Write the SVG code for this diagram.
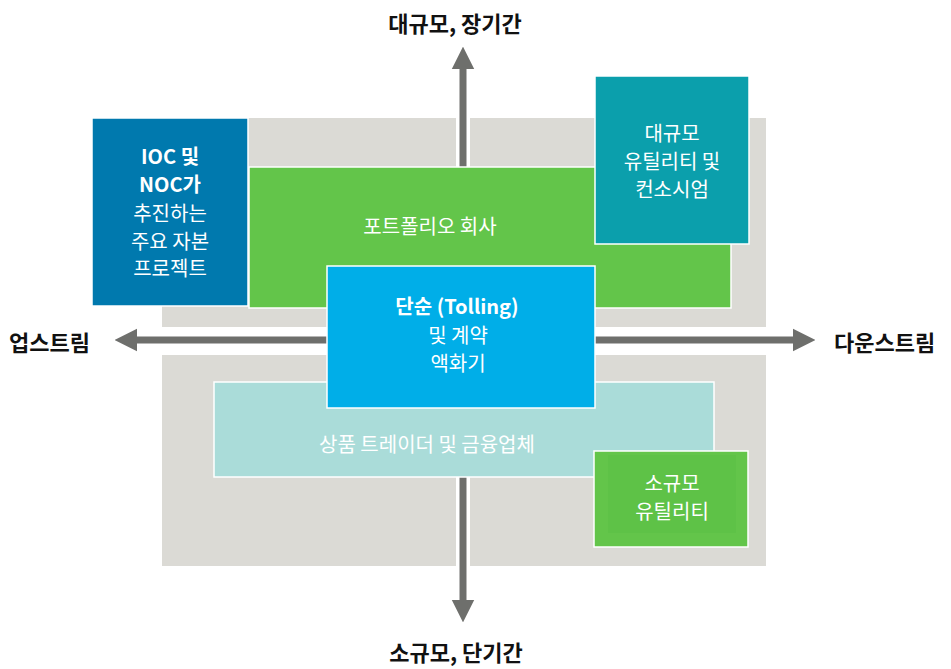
<svg xmlns="http://www.w3.org/2000/svg" width="951" height="669" viewBox="0 0 951 669">
<style>
.bg{fill:#dbdad5}
.box{stroke:#ffffff;stroke-width:1.5}
.t{font-family:"Noto Sans CJK KR","Noto Sans",sans-serif;font-size:20px;fill:#ffffff;text-anchor:middle;dominant-baseline:central}
.b{font-weight:bold}
.ax{font-family:"Noto Sans CJK KR","Noto Sans",sans-serif;font-size:22px;font-weight:bold;fill:#111111;dominant-baseline:central}
.arr{stroke:#6e6f6c;stroke-width:7;fill:none}
</style>
<defs>
<marker id="ah" viewBox="0 0 10 10" refX="0" refY="5" markerWidth="3.2" markerHeight="3.8" orient="auto" markerUnits="strokeWidth">
<path d="M0,0 L10,5 L0,10 z" fill="#6e6f6c"/>
</marker>
</defs>
<rect width="951" height="669" fill="#ffffff"/>
<g id="quadrants">
<rect class="bg" x="162" y="118" width="294" height="209"/>
<rect class="bg" x="470" y="118" width="296" height="209"/>
<rect class="bg" x="162" y="355" width="294" height="211"/>
<rect class="bg" x="470" y="355" width="296" height="211"/>
</g>
<g id="connectors">
<line class="arr" x1="463" y1="268" x2="463" y2="69" marker-end="url(#ah)"/>
<line class="arr" x1="463" y1="476" x2="463" y2="600" marker-end="url(#ah)"/>
<line class="arr" x1="328" y1="340" x2="137" y2="340" marker-end="url(#ah)"/>
<line class="arr" x1="594" y1="340" x2="793" y2="340" marker-end="url(#ah)"/>
</g>
<g id="ioc">
<rect class="box" x="92" y="118" width="156" height="188" fill="#0079ae"/>
<text class="t b" x="170" y="155">IOC 및</text>
<text class="t b" x="170" y="183">NOC가</text>
<text class="t" x="170" y="212">추진하는</text>
<text class="t" x="170" y="240">주요 자본</text>
<text class="t" x="170" y="267">프로젝트</text>
</g>
<g id="portfolio">
<rect class="box" x="249" y="167" width="482" height="141" fill="#63c54a"/>
<text class="t" x="430" y="225">포트폴리오 회사</text>
</g>
<g id="large-utilities">
<rect class="box" x="595" y="76" width="154" height="168" fill="#0b9fac"/>
<text class="t" x="672" y="132">대규모</text>
<text class="t" x="672" y="160">유틸리티 및</text>
<text class="t" x="672" y="188">컨소시엄</text>
</g>
<g id="traders">
<rect class="box" x="214" y="382" width="500" height="95" fill="#aadcd9"/>
<text class="t" x="427" y="443">상품 트레이더 및 금융업체</text>
</g>
<g id="tolling">
<rect class="box" x="327" y="266" width="268" height="142" fill="#00aee8"/>
<text class="t b" x="457" y="305">단순 (Tolling)</text>
<text class="t" x="458" y="334">및 계약</text>
<text class="t" x="458" y="362">액화기</text>
</g>
<g id="small-utilities">
<rect class="box" x="594" y="451" width="154" height="96" fill="#63c54a"/>
<rect x="608" y="455" width="128" height="78" fill="#5ec247"/>
<text class="t" x="672" y="482">소규모</text>
<text class="t" x="672" y="510">유틸리티</text>
</g>
<g id="axis-labels">
<text class="ax" x="455" y="22" text-anchor="middle">대규모, 장기간</text>
<text class="ax" x="456" y="651" text-anchor="middle">소규모, 단기간</text>
<text class="ax" x="9" y="341">업스트림</text>
<text class="ax" x="834" y="341">다운스트림</text>
</g>
</svg>
